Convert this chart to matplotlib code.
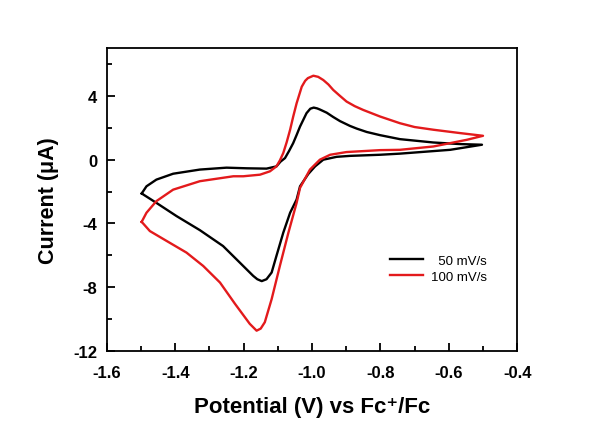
import matplotlib
matplotlib.use('Agg')
import matplotlib.pyplot as plt

plt.rcParams['font.family'] = ['Liberation Sans', 'DejaVu Sans']

# 50 mV/s loop: anodic sweep (-1.5 -> -0.5) then cathodic sweep back
e_50 = [-1.498, -1.484, -1.455, -1.406, -1.328, -1.250, -1.190, -1.133, -1.104,
        -1.092, -1.079, -1.067, -1.055, -1.045, -1.035, -1.016, -1.005, -0.995,
        -0.985, -0.977, -0.957, -0.938, -0.918, -0.889, -0.869, -0.840, -0.801,
        -0.743, -0.645, -0.567, -0.503,
        -0.596, -0.743, -0.801, -0.889, -0.928, -0.967, -0.991, -1.011, -1.035,
        -1.045, -1.064, -1.084, -1.104, -1.118, -1.133, -1.147, -1.160, -1.172,
        -1.211, -1.260, -1.328, -1.396, -1.455, -1.498]
i_50 = [-2.12, -1.67, -1.25, -0.88, -0.62, -0.50, -0.54, -0.56, -0.42,
        -0.12, 0.10, 0.55, 1.04, 1.55, 2.08, 2.92, 3.20, 3.27,
        3.22, 3.15, 2.95, 2.68, 2.42, 2.12, 1.95, 1.74, 1.54,
        1.29, 1.08, 0.98, 0.94,
        0.62, 0.38, 0.31, 0.24, 0.18, 0.00, -0.42, -0.90, -1.67,
        -2.50, -3.33, -4.58, -6.04, -7.08, -7.50, -7.62, -7.50, -7.29,
        -6.46, -5.42, -4.42, -3.54, -2.71, -2.12]

# 100 mV/s loop
e_100 = [-1.498, -1.484, -1.455, -1.406, -1.328, -1.230, -1.201, -1.152, -1.123,
         -1.104, -1.094, -1.084, -1.074, -1.064, -1.055, -1.045, -1.030, -1.020,
         -1.012, -0.996, -0.982, -0.967, -0.952, -0.938, -0.918, -0.899, -0.875,
         -0.850, -0.801, -0.743, -0.700, -0.645, -0.567, -0.500,
         -0.547, -0.645, -0.743, -0.801, -0.899, -0.947, -0.977, -1.006, -1.035,
         -1.045, -1.069, -1.094, -1.118, -1.138, -1.150, -1.162, -1.182, -1.225,
         -1.269, -1.318, -1.367, -1.425, -1.474, -1.498]
i_100 = [-3.90, -3.33, -2.60, -1.88, -1.35, -1.04, -1.04, -0.94, -0.73,
         -0.42, -0.05, 0.42, 1.10, 1.88, 2.70, 3.54, 4.58, 4.95,
         5.12, 5.27, 5.20, 5.00, 4.72, 4.38, 4.00, 3.65, 3.36,
         3.12, 2.71, 2.29, 2.05, 1.88, 1.67, 1.50,
         1.25, 0.83, 0.62, 0.60, 0.48, 0.31, 0.00, -0.62, -1.77,
         -2.71, -4.58, -6.67, -8.75, -10.20, -10.60, -10.73, -10.30, -9.05,
         -7.71, -6.67, -5.83, -5.10, -4.48, -3.90]

labels = ['  50 mV/s', '100 mV/s']
colors = ['black', '#e31a1c']

fig = plt.figure(figsize=(6, 4.35), dpi=100)
ax = fig.add_axes([0.178, 0.191, 0.684, 0.696])

ax.plot(e_50, i_50, color=colors[0], lw=1.7, label=labels[0], solid_joinstyle='round')
ax.plot(e_100, i_100, color=colors[1], lw=1.7, label=labels[1], solid_joinstyle='round')

ax.set_xlim(-1.6, -0.4)
ax.set_ylim(-12, 7)
ax.set_xticks([-1.6, -1.4, -1.2, -1.0, -0.8, -0.6, -0.4])
ax.set_xticks([-1.5, -1.3, -1.1, -0.9, -0.7, -0.5], minor=True)
ax.set_yticks([-12, -8, -4, 0, 4])
ax.set_yticks([-10, -6, -2, 2, 6], minor=True)
ax.set_xticklabels(['-1.6', '-1.4', '-1.2', '-1.0', '-0.8', '-0.6', '-0.4'])
ax.set_yticklabels(['-12', '-8', '-4', '0', '4'])

ax.tick_params(which='both', direction='in', width=1.3)
ax.tick_params(which='major', length=6, labelsize=12)
ax.tick_params(axis='x', which='major', pad=10)
ax.tick_params(axis='y', which='major', pad=7)
ax.tick_params(which='minor', length=3.5)
for lab in ax.get_xticklabels() + ax.get_yticklabels():
    lab.set_fontweight('bold')
for s in ax.spines.values():
    s.set_linewidth(1.3)

ax.set_xlabel('Potential (V) vs Fc⁺/Fc', fontsize=16, fontweight='bold', labelpad=12)
ax.set_ylabel('Current (μA)', fontsize=15.5, fontweight='bold', labelpad=10)

ax.legend(loc='center left', bbox_to_anchor=(0.662, 0.271), frameon=False,
          fontsize=9.5, handlelength=2.5, handletextpad=0.6, labelspacing=0.3)

fig.savefig('out.png', dpi=100)
